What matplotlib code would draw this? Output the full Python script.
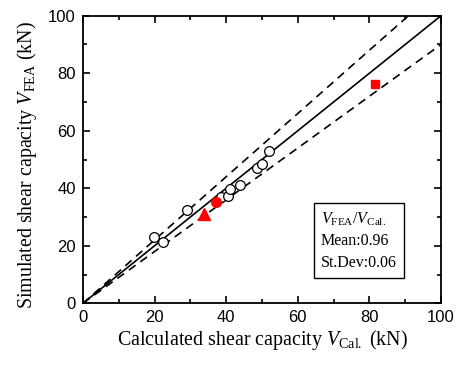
import matplotlib
matplotlib.use("Agg")
import matplotlib.pyplot as plt
import numpy as np

plt.rcParams['mathtext.fontset'] = 'custom'
plt.rcParams['mathtext.rm'] = 'Liberation Serif'
plt.rcParams['mathtext.it'] = 'Liberation Serif:italic'

# Data
open_x = [19.8, 22.3, 29.1, 38.6, 40.4, 41.1, 43.9, 48.5, 50.0, 52.0]
open_y = [23.0, 21.3, 32.4, 37.0, 37.3, 39.6, 41.1, 47.1, 48.5, 53.1]
tri_x = [33.8]
tri_y = [30.9]
circ_x = [37.2]
circ_y = [35.2]
sq_x = [81.6]
sq_y = [76.3]
ratio_lines = [1.0, 1.1, 0.9]
ticks = [0, 20, 40, 60, 80, 100]

fig = plt.figure(figsize=(4.58, 3.65), dpi=100)
ax = fig.add_axes([0.181, 0.169, 0.782, 0.788])

xx = np.array([0, 100])
ax.plot(xx, ratio_lines[0] * xx, color='black', lw=1.2, zorder=2)
ax.plot(xx, ratio_lines[1] * xx, color='black', lw=1.2, ls=(0, (5, 3.5)), zorder=2)
ax.plot(xx, ratio_lines[2] * xx, color='black', lw=1.2, ls=(0, (5, 3.5)), zorder=2)

ax.plot(open_x, open_y, 'o', ms=7, mfc='white', mec='black', mew=0.9, zorder=3)
ax.plot(tri_x, tri_y, '^', ms=8, color='red', zorder=4)
ax.plot(circ_x, circ_y, 'o', ms=7, color='red', zorder=4)
ax.plot(sq_x, sq_y, 's', ms=6, color='red', zorder=4)

ax.set_xlim(0, 100)
ax.set_ylim(0, 100)
ax.set_xticks(ticks)
ax.set_yticks(ticks)
ax.set_xticks(range(10, 100, 20), minor=True)
ax.set_yticks(range(10, 100, 20), minor=True)
ax.tick_params(which='both', direction='in', top=True, right=True, width=1.2)
ax.tick_params(which='major', length=5, labelsize=12, pad=5)
ax.tick_params(which='minor', length=3)
for lab in ax.get_xticklabels() + ax.get_yticklabels():
    lab.set_family('Liberation Sans')
for s in ax.spines.values():
    s.set_linewidth(1.3)

ax.set_xlabel(r'Calculated shear capacity $\mathit{V}_{\mathrm{Cal.}}$ (kN)',
              family='Liberation Serif', fontsize=14.4, labelpad=2)
ax.set_ylabel(r'Simulated shear capacity $\mathit{V}_{\mathrm{FEA}}$ (kN)',
              family='Liberation Serif', fontsize=14.4)
ax.yaxis.set_label_coords(-0.122, 0.48)

ax.text(66.5, 32.3,
        r'$\mathit{V}_{\mathrm{FEA}}/\mathit{V}_{\mathrm{Cal.}}$' + '\nMean:0.96\nSt.Dev:0.06',
        family='Liberation Serif', fontsize=11.5, va='top', ha='left', linespacing=1.45,
        bbox=dict(boxstyle='square,pad=0.45', fc='white', ec='black', lw=1))

fig.savefig('out.png', dpi=100)
